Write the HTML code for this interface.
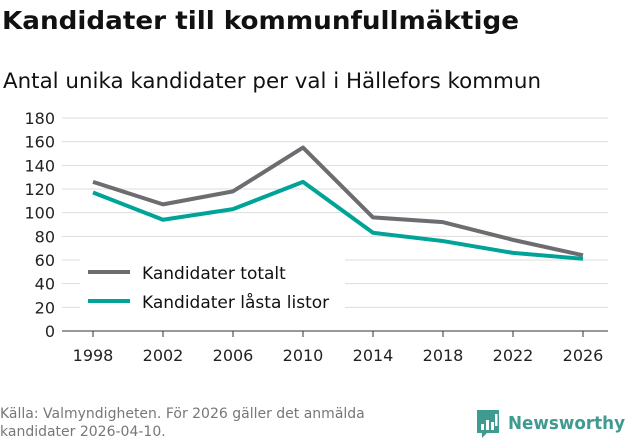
<!DOCTYPE html>
<html><head><meta charset="utf-8"><style>
body{margin:0;width:631px;height:439px;background:#fff;font-family:"DejaVu Sans","Liberation Sans",sans-serif;overflow:hidden}
</style></head><body>
<svg width="631" height="439" xmlns="http://www.w3.org/2000/svg">
<text x="2" y="29" font-size="25" font-weight="bold" fill="#111" textLength="517" lengthAdjust="spacingAndGlyphs">Kandidater till kommunfullmäktige</text>
<text x="3" y="88" font-size="21" fill="#111" textLength="538" lengthAdjust="spacingAndGlyphs">Antal unika kandidater per val i Hällefors kommun</text>
<g id="grid"></g><g id="lines"></g>
<g>
<rect x="80" y="258" width="265" height="64" fill="#fff"/>
<line x1="88" y1="272" x2="130" y2="272" stroke="#6d6c70" stroke-width="4"/>
<text x="142" y="279" font-size="17" fill="#111">Kandidater totalt</text>
<line x1="88" y1="301" x2="130" y2="301" stroke="#00a398" stroke-width="4"/>
<text x="142" y="308" font-size="17" fill="#111">Kandidater låsta listor</text>
</g>
<text x="0" y="418" font-size="14" fill="#777">Källa: Valmyndigheten. För 2026 gäller det anmälda</text>
<text x="0" y="436" font-size="14" fill="#777">kandidater 2026-04-10.</text>
<g>
<path d="M477 410h22v23h-12l-5 5v-5h-5z" fill="#3f9b8f"/>
<rect x="481" y="424" width="3" height="6" fill="#fff"/><rect x="486" y="420" width="3" height="10" fill="#fff"/><rect x="491" y="422" width="3" height="8" fill="#fff"/><rect x="495" y="414" width="2.5" height="12" fill="#fff"/>
<text x="508" y="429" font-size="18" font-weight="bold" fill="#3f9b8f" textLength="117" lengthAdjust="spacingAndGlyphs">Newsworthy</text>
</g>
</svg>
<script>
const years=[1998,2002,2006,2010,2014,2018,2022,2026];
const totalt=[126,107,118,155,96,92,77,64];
const lasta=[117,94,103,126,83,76,66,61];
const yTicks=[0,20,40,60,80,100,120,140,160,180];
const NS="http://www.w3.org/2000/svg";
const x=v=>93+(v-1998)/28*490;
const y=v=>331-v/180*213;
const g=document.getElementById('grid');
yTicks.forEach(t=>{
 const l=document.createElementNS(NS,'line');
 l.setAttribute('x1',62);l.setAttribute('x2',608);l.setAttribute('y1',y(t));l.setAttribute('y2',y(t));
 l.setAttribute('stroke',t==0?'#333':'#ddd');l.setAttribute('stroke-width',1);
 
 
 g.appendChild(l);
 const tx=document.createElementNS(NS,'text');
 tx.setAttribute('x',55);tx.setAttribute('y',y(t)+6);tx.setAttribute('text-anchor','end');tx.setAttribute('font-size',16);tx.setAttribute('fill','#222');
 tx.textContent=t;
 
 
 g.appendChild(tx);
});
years.forEach(yr=>{
 const l=document.createElementNS(NS,'line');
 l.setAttribute('x1',x(yr));l.setAttribute('x2',x(yr));l.setAttribute('y1',331);l.setAttribute('y2',337);l.setAttribute('stroke','#333');
 
 
 g.appendChild(l);
 const tx=document.createElementNS(NS,'text');
 tx.setAttribute('x',x(yr));tx.setAttribute('y',361);tx.setAttribute('text-anchor','middle');tx.setAttribute('font-size',16);tx.setAttribute('fill','#222');
 tx.textContent=yr;
 
 
 g.appendChild(tx);
});
const L=document.getElementById('lines');
[[totalt,'#6d6c70','line-totalt'],[lasta,'#00a398','line-lasta']].forEach(([d,c,n])=>{
 const p=document.createElementNS(NS,'polyline');
 p.setAttribute('points',d.map((v,i)=>x(years[i])+','+y(v)).join(' '));
 p.setAttribute('fill','none');p.setAttribute('stroke',c);p.setAttribute('stroke-width',4);p.setAttribute('stroke-linejoin','round');
 
 
 L.appendChild(p);
});
</script>
</body></html>
